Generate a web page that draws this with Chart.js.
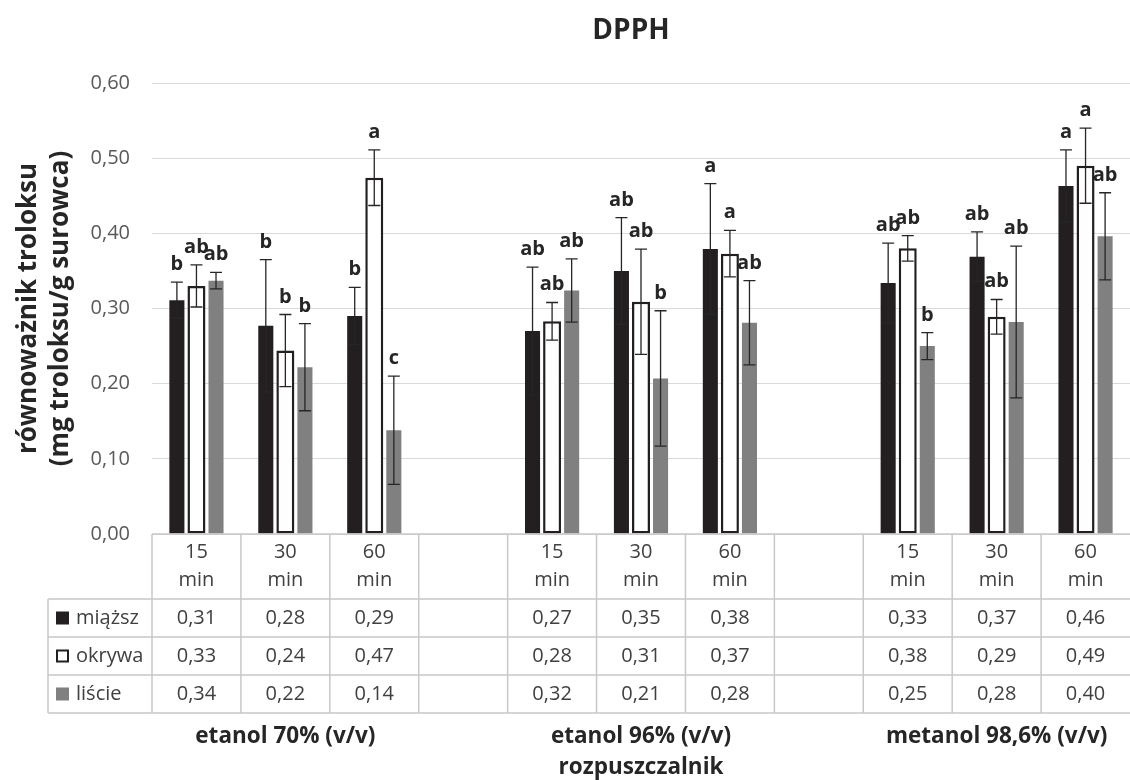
<!DOCTYPE html>
<html><head><meta charset="utf-8">
<script src="https://cdn.jsdelivr.net/npm/chart.js@4.4.1/dist/chart.umd.min.js"></script>
<style>html,body{margin:0;padding:0;background:#fff}#wrap{width:1130px;height:780px;position:relative}</style>
</head><body><div id="wrap"><canvas id="c"></canvas></div>
<script>
// ---- data ----
const chartTitle = 'DPPH';
const yAxisTitle = ['równoważnik troloksu', '(mg troloksu/g surowca)'];
const xAxisTitle = 'rozpuszczalnik';
const timeLabels = [['15','min'],['30','min'],['60','min'],['',''],['15','min'],['30','min'],['60','min'],['',''],['15','min'],['30','min'],['60','min']];
const groupLabels = ['etanol 70% (v/v)', 'etanol 96% (v/v)', 'metanol 98,6% (v/v)'];
const groupMembers = [[0,1,2],[4,5,6],[8,9,10]];
const seriesNames = ['miąższ', 'okrywa', 'liście'];
const yTicks = [0, 0.1, 0.2, 0.3, 0.4, 0.5, 0.6];

const miazsz      = [0.311, 0.277, 0.290, null, 0.270, 0.350, 0.379, null, 0.334, 0.369, 0.463];
const okrywa      = [0.330, 0.244, 0.474, null, 0.283, 0.309, 0.373, null, 0.380, 0.289, 0.490];
const liscie      = [0.337, 0.222, 0.138, null, 0.324, 0.207, 0.281, null, 0.250, 0.282, 0.396];

const miazszErr   = [0.024, 0.088, 0.038, null, 0.085, 0.071, 0.087, null, 0.053, 0.033, 0.048];
const okrywaErr   = [0.028, 0.048, 0.037, null, 0.025, 0.070, 0.031, null, 0.017, 0.023, 0.050];
const liscieErr   = [0.011, 0.058, 0.072, null, 0.042, 0.090, 0.056, null, 0.018, 0.101, 0.058];

const miazszSig   = ['b', 'b', 'b', null, 'ab', 'ab', 'a', null, 'ab', 'ab', 'a'];
const okrywaSig   = ['ab', 'b', 'a', null, 'ab', 'ab', 'a', null, 'ab', 'ab', 'a'];
const liscieSig   = ['ab', 'b', 'c', null, 'ab', 'b', 'ab', null, 'b', 'ab', 'ab'];

// ---- styling ----
const FONT = "'Open Sans', sans-serif";
const DARK = '#231f20';
const GREY = '#808080';
const TXT = '#404040';
const LINE = '#c8c8c8';
const fmt = v => (Math.round(v * 100) / 100).toFixed(2).replace('.', ',');

const overlay = {
  id: 'overlay',
  afterDatasetsDraw(chart) {
    const ctx = chart.ctx, ys = chart.scales.y;
    chart.data.datasets.forEach((ds, di) => {
      const meta = chart.getDatasetMeta(di);
      meta.data.forEach((bar, i) => {
        const v = ds.data[i];
        if (v == null) return;
        const e = ds.errors[i];
        const x = bar.x;
        const yt = ys.getPixelForValue(v + e), yb = ys.getPixelForValue(v - e);
        ctx.save();
        ctx.strokeStyle = '#262626';
        ctx.lineWidth = 1.3;
        ctx.beginPath();
        ctx.moveTo(x, yt); ctx.lineTo(x, yb);
        ctx.moveTo(x - 6, yt); ctx.lineTo(x + 6, yt);
        ctx.moveTo(x - 6, yb); ctx.lineTo(x + 6, yb);
        ctx.stroke();
        ctx.fillStyle = '#262626';
        ctx.font = `bold 20px ${FONT}`;
        ctx.textAlign = 'center';
        ctx.textBaseline = 'alphabetic';
        ctx.fillText(ds.letters[i], x, yt - 12);
        ctx.restore();
      });
    });
  },
  afterDraw(chart) {
    const ctx = chart.ctx, ca = chart.chartArea;
    const n = timeLabels.length;
    const catW = (ca.right - ca.left) / n;
    const top = ca.bottom;
    const hdrB = top + 65;
    const rowH = 38;
    const tableL = 48;
    const bottom = hdrB + rowH * seriesNames.length;
    ctx.save();
    // title
    ctx.fillStyle = '#262626';
    ctx.font = `bold 28px ${FONT}`;
    ctx.textAlign = 'center';
    ctx.textBaseline = 'middle';
    ctx.fillText(chartTitle, (ca.left + ca.right) / 2 - 10, 31);

    // table lines
    ctx.strokeStyle = LINE;
    ctx.lineWidth = 1.5;
    ctx.beginPath();
    ctx.moveTo(ca.left, top); ctx.lineTo(ca.right, top);
    for (let r = 0; r <= seriesNames.length; r++) {
      const yy = hdrB + r * rowH;
      ctx.moveTo(tableL, yy); ctx.lineTo(ca.right, yy);
    }
    ctx.moveTo(tableL, hdrB); ctx.lineTo(tableL, bottom);
    for (let i = 0; i < n; i++) {
      const xx = ca.left + i * catW;
      ctx.moveTo(xx, top); ctx.lineTo(xx, bottom);
    }
    ctx.stroke();

    // category labels
    ctx.fillStyle = TXT;
    ctx.font = `20px ${FONT}`;
    ctx.textAlign = 'center';
    ctx.textBaseline = 'middle';
    timeLabels.forEach((lab, i) => {
      const cx = ca.left + (i + 0.5) * catW;
      ctx.fillText(lab[0], cx, top + 18);
      ctx.fillText(lab[1], cx, top + 46);
    });
    // values
    chart.data.datasets.forEach((ds, di) => {
      const cy = hdrB + (di + 0.5) * rowH;
      ds.data.forEach((v, i) => {
        if (v == null) return;
        ctx.fillText(fmt(v), ca.left + (i + 0.5) * catW, cy);
      });
      // legend marker
      const mx = 56, ms = 13;
      if (di === 1) {
        ctx.fillStyle = '#fff';
        ctx.fillRect(mx, cy - ms / 2, ms, ms);
        ctx.strokeStyle = DARK; ctx.lineWidth = 2;
        ctx.strokeRect(mx + 1, cy - ms / 2 + 1, ms - 2, ms - 2);
      } else {
        ctx.fillStyle = ds.backgroundColor;
        ctx.fillRect(mx, cy - ms / 2, ms, ms);
      }
      ctx.fillStyle = TXT;
      ctx.textAlign = 'left';
      ctx.fillText(ds.label, 76, cy);
      ctx.textAlign = 'center';
    });
    // group labels
    ctx.fillStyle = '#262626';
    ctx.font = `bold 22.5px ${FONT}`;
    groupLabels.forEach((g, gi) => {
      const idx = groupMembers[gi];
      const x0 = ca.left + idx[0] * catW, x1 = ca.left + (idx[idx.length - 1] + 1) * catW;
      ctx.fillText(g, (x0 + x1) / 2, bottom + 24);
    });
    ctx.fillText(xAxisTitle, (ca.left + ca.right) / 2, bottom + 55);
    ctx.restore();
  }
};

new Chart(document.getElementById('c'), {
  type: 'bar',
  data: {
    labels: timeLabels.map(l => l.join(' ')),
    datasets: [
      { label: seriesNames[0], data: miazsz, errors: miazszErr, letters: miazszSig,
        backgroundColor: DARK, borderWidth: 0, barPercentage: 0.77 },
      { label: seriesNames[1], data: okrywa, errors: okrywaErr, letters: okrywaSig,
        backgroundColor: '#ffffff', borderColor: DARK, borderWidth: 2.5, borderSkipped: false, barPercentage: 0.92 },
      { label: seriesNames[2], data: liscie, errors: liscieErr, letters: liscieSig,
        backgroundColor: GREY, borderWidth: 0, barPercentage: 0.77 }
    ]
  },
  options: {
    responsive: true,
    maintainAspectRatio: false,
    animation: false,
    layout: { padding: { top: 83, bottom: 246, left: 0, right: 0 } },
    plugins: { legend: { display: false }, title: { display: false }, tooltip: { enabled: false } },
    datasets: { bar: { categoryPercentage: 0.66 } },
    scales: {
      x: { display: false, grid: { display: false } },
      y: {
        min: yTicks[0], max: yTicks[yTicks.length - 1],
        afterFit(s) { s.width = 152; },
        afterBuildTicks(s) { s.ticks = yTicks.map(v => ({ value: v })); },
        ticks: { callback: v => fmt(v), color: '#595959', font: { family: FONT, size: 20 }, padding: 22 },
        grid: { color: '#d9d9d9', lineWidth: 1, drawTicks: false },
        border: { display: false },
        title: { display: true, text: yAxisTitle, color: '#262626',
          font: { family: FONT, size: 26, weight: 'bold', lineHeight: 1.25 }, padding: { top: 12, bottom: 0 } }
      }
    }
  },
  plugins: [overlay]
});
</script>
</body></html>
